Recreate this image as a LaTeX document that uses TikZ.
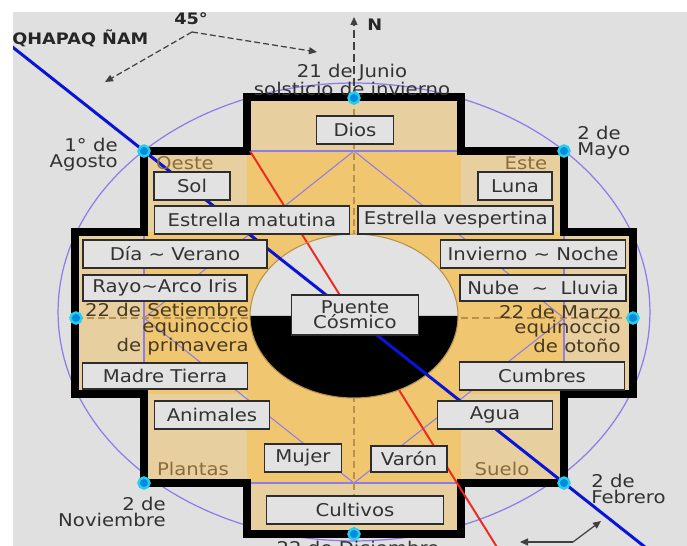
\documentclass[tikz,border=0pt]{standalone}
\usepackage{fontspec}
\setmainfont[FakeStretch=1.12]{DejaVu Sans}
\usetikzlibrary{arrows.meta,positioning,calc}

\definecolor{bggray}{RGB}{224,224,224}
\definecolor{paletan}{RGB}{232,207,160}
\definecolor{goldtan}{RGB}{240,198,112}
\definecolor{cellfill}{RGB}{226,226,226}
\definecolor{cellline}{RGB}{45,45,45}
\definecolor{celltext}{RGB}{50,50,50}
\definecolor{sidetan}{RGB}{140,108,56}
\definecolor{eqbrown}{RGB}{70,58,36}
\definecolor{lilac}{RGB}{140,125,232}
\definecolor{axistan}{RGB}{184,146,74}
\definecolor{roadblue}{RGB}{10,20,215}
\definecolor{sunred}{RGB}{240,40,30}
\definecolor{dotcore}{RGB}{0,140,225}
\definecolor{dotring}{RGB}{40,205,235}

% outline of the stepped cross (pixel units)
\newcommand{\crossoutline}{(247,97) -- (461,97) -- (461,151) -- (564,151) -- (564,232)
  -- (633,232) -- (633,394) -- (564,394) -- (564,483) -- (461,483) -- (461,534)
  -- (247,534) -- (247,483) -- (144,483) -- (144,394) -- (75,394) -- (75,232)
  -- (144,232) -- (144,151) -- (247,151) -- cycle}

\begin{document}
\begin{tikzpicture}[
  x=0.02cm, y=-0.02cm,
  font=\fontsize{10}{9}\selectfont,
  cell/.style={draw=cellline, line width=1.1pt, fill=cellfill, text=celltext, minimum height=0.56cm, inner sep=1pt},
  date/.style={text=celltext, inner sep=0pt},
  side/.style={text=sidetan, inner sep=0pt},
  bold/.style={text=black!85, inner sep=0pt, font=\bfseries\fontsize{9}{9}\selectfont},
  dot/.style={circle, draw=dotring, fill=dotcore, line width=1.4pt, minimum size=0.22cm, inner sep=0pt},
  orbit/.style={draw=lilac, line width=0.7pt},
  guide/.style={draw=lilac, line width=0.6pt},
  axis/.style={draw=axistan, line width=1.1pt, dash pattern=on 0.14cm off 0.08cm},
  wall/.style={draw=black, line width=5pt, line join=miter},
  road/.style={draw=roadblue, line width=1.7pt},
  sunline/.style={draw=sunred, line width=1.1pt},
  marker/.style={draw=black!75, line width=0.7pt, -{Triangle[length=0.16cm, width=0.14cm]}}
]

\useasboundingbox (0,0) rectangle (687,546);
\fill[white] (0,0) rectangle (687,546);
\fill[bggray] (13,12) rectangle (687,546);
\clip (13,12) rectangle (687,546);

% calendar points
\coordinate (jun) at (354,98);
\coordinate (may) at (564,151);
\coordinate (ago) at (144,151);
\coordinate (set) at (76,318);
\coordinate (mar) at (633,318);
\coordinate (nov) at (144,483);
\coordinate (feb) at (564,483);
\coordinate (dic) at (354,534);
\coordinate (dtop) at (354,151);
\coordinate (dleft) at (144,318);
\coordinate (dbot) at (354,483);
\coordinate (dright) at (564,318);
\coordinate (rtop) at (250,151);
\coordinate (rend) at (505,560);
\coordinate (qstart) at ($(ago)!-0.35!(feb)$);
\coordinate (qend) at ($(feb)!-0.25!(ago)$);

\draw[orbit] (354,312) ellipse [x radius=5.92cm, y radius=4.58cm];

\fill[paletan] \crossoutline;
\fill[goldtan] (247,151) rectangle (461,483);
\fill[goldtan] (144,232) rectangle (564,394);

\draw[guide] (247,151) -- (461,151);
\draw[guide] (247,483) -- (461,483);
\draw[guide] (144,232) -- (144,394);
\draw[guide] (564,232) -- (564,394);
\draw[guide] (dtop) -- (dright) -- (dbot) -- (dleft) -- cycle;

\draw[axis] (jun) -- (dic);
\draw[axis] (set) -- (mar);

\draw[wall] \crossoutline;

% cosmic bridge: day above, night below
\fill[cellfill] (250,316) arc[start angle=180, end angle=0, x radius=2.08cm, y radius=1.64cm] -- cycle;
\draw[sunline] (rtop) -- (rend);
\fill[black] (250,316) arc[start angle=180, end angle=360, x radius=2.08cm, y radius=1.64cm] -- cycle;
\draw[draw=axistan, line width=0.6pt] (354,316) ellipse [x radius=2.08cm, y radius=1.64cm];
\draw[road] (qstart) -- (ago) -- (feb) -- (qend);

\node[side] (oeste) at (185,163) {Oeste};
\node[side] (este) at (526,163) {Este};
\node[side] (plantas) at (193,469) {Plantas};
\node[side] (suelo) at (502,469) {Suelo};

\node[cell, minimum width=1.54cm] (dios) at (355,130) {Dios};
\node[cell, minimum width=1.52cm] (sol) at (192,186) {Sol};
\node[cell, minimum width=1.48cm] (luna) at (515,186) {Luna};
\node[cell, minimum width=3.90cm] (matutina) at (252,220) {Estrella matutina};
\node[cell, minimum width=3.90cm, right=0.14cm of matutina] (vespertina) {Estrella vespertina};
\node[cell, minimum width=3.68cm] (dia) at (175,254) {Día \textasciitilde{} Verano};
\node[cell, minimum width=3.28cm, minimum height=0.52cm] (rayo) at (165,288) {Rayo\textasciitilde Arco Iris};
\node[cell, minimum width=3.70cm] (invierno) at (533,254) {Invierno \textasciitilde{} Noche};
\node[cell, minimum width=3.32cm, minimum height=0.52cm] (nube) at (543,288) {Nube \ \textasciitilde\ \ Lluvia};
\node[cell, minimum width=2.54cm, minimum height=0.80cm, align=center, font=\fontsize{10}{8.6}\selectfont] (puente) at (355,315) {Puente\\Cósmico};
\node[cell, minimum width=3.30cm, minimum height=0.52cm] (madre) at (165,376) {Madre Tierra};
\node[cell, minimum width=3.30cm] (cumbres) at (542,376) {Cumbres};
\node[cell, minimum width=2.30cm] (animales) at (212,415) {Animales};
\node[cell, minimum width=2.30cm] (agua) at (495,415) {Agua};
\node[cell, minimum width=1.54cm] (mujer) at (303,458) {Mujer};
\node[cell, minimum width=1.52cm, minimum height=0.52cm] (varon) at (409,459) {Varón};
\node[cell, minimum width=3.54cm] (cultivos) at (355,510) {Cultivos};

\node[date, align=center] (junio) at (352,80) {21 de Junio\\solsticio de invierno};
\node[date, align=right, anchor=east] (agosto) at (118,155) {1° de\\Agosto};
\node[date, align=left, anchor=west] (mayo) at (577,143) {2 de\\Mayo};
\node[date, align=right, anchor=east] (noviembre) at (166,512) {2 de\\Noviembre};
\node[date, align=left, anchor=west] (febrero) at (591,489) {2 de\\Febrero};
\node[date, text=eqbrown, align=right, anchor=east] (setiembre) at (249,329) {22 de Setiembre\\equinoccio\\de primavera};
\node[date, text=eqbrown, align=right, anchor=east] (marzo) at (621,329) {22 de Marzo\\equinoccio\\de otoño};
\node[date] (diciembre) at (358,548) {22 de Diciembre};

\node[bold, anchor=west] (qhapaq) at (12,38) {QHAPAQ ÑAM};
\node[bold] (grados) at (191,19) {45°};
\node[bold, anchor=west] (norte) at (367,25) {N};

\coordinate (ang) at (192,32);
\coordinate (angw) at (105,82);
\coordinate (ange) at (317,52);
\draw[marker, dash pattern=on 0.12cm off 0.06cm] (ang) -- (angw);
\draw[marker, dash pattern=on 0.12cm off 0.06cm] (ang) -- (ange);
\coordinate (north) at (354,17);
\draw[marker, dash pattern=on 0.16cm off 0.08cm] (jun) -- (north);
\coordinate (cnr) at (573,542);
\coordinate (cnrn) at (601,521);
\coordinate (cnrw) at (520,542);
\draw[marker] (cnr) -- (cnrn);
\draw[marker] (cnr) -- (cnrw);

\node[dot] (djun) at (jun) {};
\node[dot] (dmay) at (may) {};
\node[dot] (dago) at (ago) {};
\node[dot] (dset) at (set) {};
\node[dot] (dmar) at (mar) {};
\node[dot] (dnov) at (nov) {};
\node[dot] (dfeb) at (feb) {};
\node[dot] (ddic) at (dic) {};

\end{tikzpicture}
\end{document}
